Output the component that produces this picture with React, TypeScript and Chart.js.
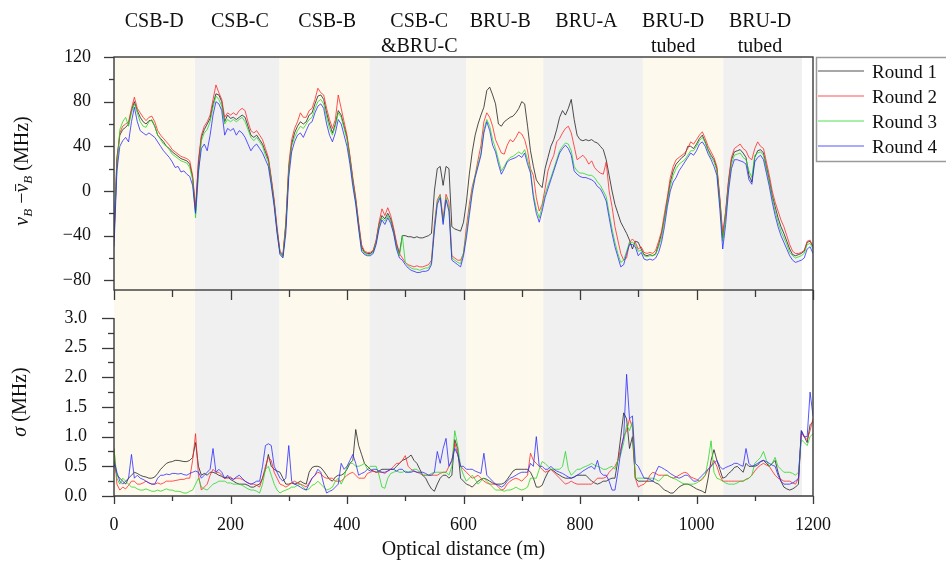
import { useEffect, useRef } from 'react';
import { Chart, registerables } from 'chart.js';

Chart.register(...registerables);

// ---------------- data ----------------
const DIST_STEP = 5; // m between samples, samples start at 0 m
const ROUND_LABELS = ['Round 1', 'Round 2', 'Round 3', 'Round 4'];
const ROUND_COLORS = ['rgba(35,35,35,0.8)', 'rgba(255,35,35,0.78)', 'rgba(35,215,35,0.78)', 'rgba(40,40,255,0.78)'];

// Brillouin frequency shift deviation (MHz)
const SHIFT_R1 = [
  -42, 30, 50, 55, 57, 60, 72, 80, 72, 66,
  62, 60, 63, 63, 58, 50, 47, 44, 40, 38,
  35, 33, 31, 29, 28, 27, 24, 12, -18, 25,
  48, 55, 60, 65, 78, 87, 86, 80, 62, 68,
  65, 66, 64, 66, 68, 66, 58, 50, 48, 50,
  46, 42, 35, 28, 10, -10, -35, -55, -58, -30,
  20, 42, 52, 58, 62, 60, 62, 68, 70, 78,
  85, 86, 82, 70, 60, 52, 60, 72, 68, 58,
  48, 30, 10, -8, -30, -50, -55, -56, -56, -54,
  -45, -30, -22, -25, -20, -25, -35, -48, -56, -40,
  -40, -41, -41, -42, -41, -42, -42, -41, -40, -38,
  0, 20, 22, 5, 22, 20, -32, -34, -35, -36,
  -28, -10, 15, 35, 50, 60, 68, 75, 90, 93,
  86, 78, 60, 58, 62, 64, 66, 67, 70, 74,
  80, 78, 58, 36, 22, 10, 6, 3, 20, 30,
  40, 46, 55, 66, 72, 68, 74, 82, 64, 50,
  46, 45, 46, 45, 46, 44, 43, 40, 37, 28,
  14, 0, -12, -20, -28, -33, -38, -44, -52, -45,
  -46, -52, -57, -58, -57, -58, -56, -48, -38, -24,
  -8, 8, 18, 24, 27, 30, 32, 40, 40, 38,
  42, 47, 50, 44, 37, 32, 28, 20, -8, -42,
  -20, 8, 28, 35, 36, 37, 34, 30, 14, 8,
  30, 36, 37, 34, 22, 10, -4, -14, -24, -32,
  -38, -45, -52, -57, -58, -57, -56, -54, -46, -45,
  -50,
];
const SHIFT_R2 = [
  -45, 25, 52, 58, 60, 62, 74, 84, 74, 70,
  66, 63, 66, 67, 62, 54, 50, 47, 44, 41,
  37, 35, 33, 31, 30, 29, 27, 14, -15, 28,
  50, 58, 62, 68, 82, 95, 88, 82, 66, 70,
  68, 70, 68, 72, 74, 72, 62, 54, 52, 54,
  50, 46, 38, 30, 12, -8, -33, -54, -57, -28,
  24, 46, 56, 62, 70, 66, 66, 72, 74, 82,
  92, 88, 86, 74, 64, 56, 64, 86, 74, 62,
  50, 32, 12, -6, -28, -48, -54, -55, -55, -53,
  -44, -28, -16, -22, -15, -22, -33, -46, -56, -60,
  -64, -66, -67, -68, -67, -68, -68, -67, -66, -62,
  -30, -8, -3, -25, -3, -10, -58, -60, -62, -62,
  -56, -32, -12, 4, 14, 28, 41, 62, 70, 66,
  58, 46, 40, 34, 33, 41, 46, 44, 48, 53,
  51, 46, 36, 20, 14, -6, -18, -12, 2, 18,
  26, 32, 44, 47, 52, 56, 58, 52, 40, 28,
  30, 32, 29, 24, 27, 21, 18, 16, 15, 26,
  0, -14, -32, -44, -56, -62, -60, -46, -43, -46,
  -52, -50, -55, -56, -55, -56, -53, -45, -36, -20,
  -5, 12, 22, 28, 30, 32, 34, 38, 44, 42,
  46, 50, 53, 47, 40, 35, 30, 22, -5, -38,
  -18, 10, 30, 38, 40, 42, 38, 36, 30, 28,
  38, 44, 40, 38, 26, 14, 0, -10, -18, -26,
  -32, -40, -48, -54, -56, -56, -55, -53, -45, -44,
  -50,
];
const SHIFT_R3 = [
  -38, 20, 55, 62, 66, 58, 70, 78, 70, 62,
  58, 57, 62, 64, 58, 50, 46, 42, 40, 37,
  33, 31, 29, 27, 26, 25, 21, 10, -24, 15,
  45, 52, 55, 62, 75, 85, 82, 76, 60, 64,
  62, 64, 62, 64, 66, 62, 55, 48, 45, 48,
  44, 40, 32, 26, 8, -12, -37, -56, -59, -32,
  18, 40, 48, 54, 58, 56, 60, 64, 66, 74,
  80, 82, 78, 66, 56, 50, 58, 70, 66, 56,
  46, 28, 8, -10, -32, -52, -56, -57, -57, -55,
  -46, -32, -24, -27, -22, -27, -37, -50, -58, -40,
  -64, -67, -69, -70, -70, -71, -70, -69, -69, -64,
  -33, -10, -4, -28, -6, -15, -60, -62, -64, -65,
  -55, -38, -18, 1, 14, 24, 34, 55, 64, 58,
  46, 38, 28, 18, 22, 27, 30, 31, 33, 35,
  33, 37, 28, 18, -3, -16, -24, -14, -3, 5,
  12, 20, 28, 36, 40, 43, 42, 36, 22, 18,
  16, 16, 15, 14, 14, 12, 8, 5, 0, -5,
  -20, -34, -46, -56, -64, -62, -54, -46, -46, -48,
  -54, -53, -58, -59, -58, -58, -57, -50, -42, -26,
  -10, 4, 14, 20, 24, 26, 28, 32, 36, 36,
  40, 45, 48, 43, 36, 30, 26, 18, -10, -45,
  -22, 4, 24, 32, 33, 34, 30, 28, 18, 12,
  32, 34, 35, 32, 20, 8, -6, -18, -28, -36,
  -42, -48, -55, -58, -60, -59, -58, -56, -48, -47,
  -52,
];
const SHIFT_R4 = [
  -50, 18, 40, 45, 48, 44, 62, 75, 62, 54,
  52, 50, 52, 50, 48, 44, 40, 36, 33, 30,
  26, 21, 22, 17, 18, 15, 13, 5, -20, 18,
  38, 42, 36, 50, 68, 80, 78, 72, 50, 56,
  54, 56, 50, 54, 52, 48, 42, 36, 40, 42,
  38, 34, 28, 22, 5, -14, -38, -57, -60, -38,
  12, 35, 44, 50, 52, 48, 54, 60, 62, 70,
  76, 78, 74, 60, 50, 44, 52, 64, 60, 50,
  40, 24, 4, -12, -34, -54, -57, -58, -58, -56,
  -48, -34, -26, -30, -24, -29, -38, -52, -60, -62,
  -66, -69, -71, -72, -73, -73, -72, -72, -71, -66,
  -36, -12, -6, -30, -8, -18, -62, -64, -66, -68,
  -58, -42, -22, -2, 12, 22, 32, 52, 62, 54,
  41, 35, 24, 15, 20, 26, 28, 29, 30, 32,
  30, 34, 24, 16, -6, -20, -28, -18, -6, 2,
  10, 18, 26, 34, 38, 41, 38, 32, 18, 15,
  13, 12, 12, 11, 10, 8, 4, 2, -3, -9,
  -24, -38, -50, -59, -68, -66, -56, -48, -48, -50,
  -58, -55, -61, -62, -61, -62, -60, -55, -46, -32,
  -14, 0, 8, 12, 18, 22, 26, 30, 34, 32,
  36, 42, 44, 40, 33, 28, 22, 14, -16, -52,
  -30, 0, 20, 28, 28, 27, 26, 24, 10, 6,
  26, 30, 32, 28, 16, 4, -10, -22, -32, -40,
  -46, -52, -58, -62, -64, -63, -62, -60, -52, -50,
  -56,
];

// standard deviation sigma (MHz)
const SIGMA_R1 = [
  0.55, 0.35, 0.3, 0.25, 0.2, 0.3, 0.35, 0.4, 0.38, 0.35,
  0.33, 0.32, 0.3, 0.3, 0.32, 0.38, 0.45, 0.5, 0.55, 0.57,
  0.58, 0.6, 0.6, 0.59, 0.58, 0.58, 0.6, 0.65, 0.9, 0.5,
  0.35, 0.38, 0.35, 0.4, 0.4, 0.38, 0.35, 0.33, 0.3, 0.32,
  0.28, 0.25, 0.22, 0.2, 0.2, 0.2, 0.18, 0.15, 0.15, 0.18,
  0.2, 0.3, 0.45, 0.7, 0.5, 0.45, 0.42, 0.4, 0.3, 0.2,
  0.2, 0.22, 0.2, 0.22, 0.25, 0.22, 0.2, 0.4, 0.48, 0.5,
  0.5, 0.48, 0.42, 0.35, 0.28, 0.25, 0.32, 0.35, 0.35, 0.38,
  0.45, 0.55, 0.6, 1.12, 0.85, 0.7, 0.55, 0.5, 0.45, 0.42,
  0.4, 0.42, 0.45, 0.45, 0.45, 0.45, 0.45, 0.5, 0.55, 0.6,
  0.62, 0.65, 0.69, 0.6, 0.55, 0.45, 0.35, 0.3, 0.2, 0.12,
  0.08, 0.2, 0.3, 0.35, 0.35, 0.3, 0.35, 0.95, 0.8, 0.3,
  0.25, 0.2, 0.18, 0.15, 0.2, 0.25, 0.28, 0.3, 0.28, 0.25,
  0.22, 0.2, 0.2, 0.2, 0.22, 0.28, 0.35, 0.42, 0.45, 0.45,
  0.45, 0.45, 0.45, 0.4, 0.3, 0.15, 0.15, 0.18, 0.3, 0.4,
  0.45, 0.42, 0.38, 0.35, 0.32, 0.3, 0.3, 0.3, 0.32, 0.35,
  0.35, 0.35, 0.35, 0.3, 0.25, 0.22, 0.2, 0.22, 0.25, 0.25,
  0.28, 0.3, 0.3, 0.6, 1.0, 1.4, 1.3, 0.8, 1.0, 0.3,
  0.25, 0.25, 0.25, 0.25, 0.25, 0.25, 0.22, 0.2, 0.15, 0.1,
  0.08, 0.05, 0.05, 0.1, 0.15, 0.18, 0.2, 0.2, 0.18, 0.15,
  0.12, 0.1, 0.08, 0.05, 0.3, 0.6, 0.78, 0.6, 0.45, 0.3,
  0.32, 0.38, 0.42, 0.48, 0.5, 0.45, 0.4, 0.55, 0.5, 0.5,
  0.5, 0.52, 0.58, 0.6, 0.55, 0.5, 0.55, 0.6, 0.4, 0.25,
  0.15, 0.12, 0.1, 0.12, 0.15, 0.2, 1.1, 1.0, 0.9, 1.2,
  1.25,
];
const SIGMA_R2 = [
  0.8, 0.2, 0.1, 0.15, 0.12, 0.18, 0.25, 0.25, 0.2, 0.2,
  0.22, 0.25, 0.22, 0.2, 0.2, 0.22, 0.2, 0.22, 0.25, 0.25,
  0.25, 0.26, 0.27, 0.28, 0.28, 0.3, 0.3, 0.6, 1.05, 0.35,
  0.1, 0.15, 0.2, 0.35, 0.45, 0.4, 0.4, 0.35, 0.3, 0.3,
  0.32, 0.28, 0.3, 0.3, 0.28, 0.25, 0.22, 0.2, 0.2, 0.18,
  0.15, 0.3, 0.5, 0.65, 0.6, 0.4, 0.3, 0.2, 0.18, 0.15,
  0.18, 0.22, 0.25, 0.22, 0.2, 0.18, 0.15, 0.22, 0.3, 0.35,
  0.4, 0.38, 0.32, 0.3, 0.3, 0.3, 0.25, 0.25, 0.25, 0.3,
  0.35, 0.38, 0.4, 0.35, 0.3, 0.3, 0.3, 0.38, 0.4, 0.42,
  0.4, 0.4, 0.4, 0.38, 0.42, 0.45, 0.5, 0.55, 0.55, 0.6,
  0.68, 0.5, 0.45, 0.42, 0.4, 0.38, 0.35, 0.35, 0.35, 0.35,
  0.35, 0.35, 0.38, 0.4, 0.4, 0.5, 0.6, 0.9, 0.7, 0.5,
  0.45, 0.4, 0.35, 0.3, 0.32, 0.35, 0.3, 0.25, 0.22, 0.2,
  0.2, 0.2, 0.15, 0.1, 0.12, 0.2, 0.25, 0.28, 0.3, 0.28,
  0.25, 0.3, 0.35, 0.72, 0.6, 0.55, 0.5, 0.45, 0.4, 0.42,
  0.45, 0.4, 0.35, 0.3, 0.25, 0.2, 0.22, 0.25, 0.22, 0.2,
  0.2, 0.2, 0.2, 0.2, 0.2, 0.25, 0.3, 0.3, 0.3, 0.32,
  0.4, 0.45, 0.5, 0.6, 0.8, 1.0, 1.1, 1.3, 1.15, 0.3,
  0.15, 0.18, 0.2, 0.25, 0.35, 0.4, 0.38, 0.35, 0.35, 0.35,
  0.35, 0.32, 0.3, 0.32, 0.35, 0.38, 0.4, 0.38, 0.32, 0.3,
  0.28, 0.25, 0.28, 0.35, 0.45, 0.5, 0.6, 0.5, 0.35, 0.25,
  0.25, 0.25, 0.25, 0.25, 0.25, 0.25, 0.25, 0.28, 0.3, 0.35,
  0.42, 0.48, 0.52, 0.55, 0.52, 0.5, 0.42, 0.35, 0.3, 0.28,
  0.25, 0.25, 0.25, 0.22, 0.2, 0.3, 1.05, 1.0, 0.95, 1.1,
  1.3,
];
const SIGMA_R3 = [
  0.8, 0.3, 0.2, 0.3, 0.25, 0.2, 0.15, 0.15, 0.12, 0.1,
  0.1, 0.12, 0.1, 0.08, 0.08, 0.1, 0.08, 0.1, 0.12, 0.1,
  0.1, 0.08, 0.08, 0.07, 0.05, 0.05, 0.08, 0.1, 0.2, 0.3,
  0.15, 0.12, 0.1, 0.15, 0.2, 0.22, 0.25, 0.25, 0.25, 0.22,
  0.22, 0.2, 0.2, 0.2, 0.18, 0.15, 0.12, 0.1, 0.1, 0.08,
  0.05, 0.2, 0.45, 0.5, 0.35, 0.2, 0.1, 0.05, 0.08, 0.1,
  0.12, 0.15, 0.15, 0.18, 0.2, 0.15, 0.1, 0.12, 0.18, 0.2,
  0.25, 0.2, 0.15, 0.1, 0.12, 0.15, 0.25, 0.3, 0.2, 0.3,
  0.5, 0.55, 0.55, 0.5, 0.5, 0.52, 0.55, 0.45, 0.5, 0.5,
  0.5, 0.35, 0.15, 0.13, 0.3, 0.38, 0.4, 0.42, 0.4, 0.4,
  0.42, 0.4, 0.42, 0.45, 0.45, 0.4, 0.35, 0.35, 0.35, 0.38,
  0.4, 0.4, 0.4, 0.4, 0.4, 0.35, 0.5, 1.1, 0.85, 0.5,
  0.35, 0.25, 0.3, 0.35, 0.28, 0.2, 0.25, 0.3, 0.25, 0.2,
  0.15, 0.1, 0.1, 0.1, 0.08, 0.1, 0.1, 0.12, 0.15, 0.12,
  0.1, 0.12, 0.15, 0.3, 0.3, 0.3, 0.45, 0.58, 0.55, 0.5,
  0.45, 0.45, 0.45, 0.45, 0.5, 0.75, 0.45, 0.35, 0.4, 0.45,
  0.45, 0.48, 0.5, 0.52, 0.55, 0.52, 0.5, 0.48, 0.45, 0.45,
  0.48, 0.5, 0.45, 0.6, 0.7, 0.9, 1.2, 1.1, 1.25, 0.3,
  0.3, 0.3, 0.3, 0.3, 0.3, 0.3, 0.28, 0.25, 0.3, 0.35,
  0.35, 0.32, 0.3, 0.28, 0.25, 0.22, 0.2, 0.2, 0.2, 0.2,
  0.22, 0.25, 0.3, 0.35, 0.6, 0.93, 0.4, 0.3, 0.28, 0.25,
  0.22, 0.2, 0.2, 0.2, 0.22, 0.25, 0.25, 0.28, 0.3, 0.35,
  0.55, 0.6, 0.65, 0.75, 0.6, 0.5, 0.55, 0.65, 0.5, 0.45,
  0.4, 0.4, 0.4, 0.38, 0.35, 0.4, 0.95, 0.9, 0.85, 1.0,
  1.05,
];
const SIGMA_R4 = [
  0.6, 0.4, 0.25, 0.2, 0.25, 0.3, 0.7, 0.3, 0.35, 0.3,
  0.28, 0.25, 0.22, 0.2, 0.2, 0.3, 0.35, 0.35, 0.37, 0.36,
  0.38, 0.38, 0.37, 0.38, 0.36, 0.35, 0.38, 0.4, 0.42, 0.4,
  0.3, 0.35, 0.4, 0.45, 0.8, 0.4, 0.45, 0.4, 0.3, 0.35,
  0.3, 0.28, 0.32, 0.35, 0.3, 0.25, 0.22, 0.2, 0.22, 0.25,
  0.25, 0.5, 0.85, 0.88, 0.85, 0.5, 0.4, 0.3, 0.25, 0.3,
  0.85, 0.25, 0.2, 0.18, 0.15, 0.12, 0.1, 0.2, 0.3, 0.35,
  0.45, 0.4, 0.2, 0.05, 0.08, 0.1, 0.15, 0.2, 0.55, 0.45,
  0.5, 0.6, 0.7, 0.55, 0.35, 0.38, 0.4, 0.45, 0.42, 0.45,
  0.45, 0.42, 0.4, 0.4, 0.42, 0.45, 0.45, 0.42, 0.45, 0.45,
  0.4, 0.4, 0.4, 0.42, 0.4, 0.4, 0.4, 0.38, 0.35, 0.35,
  0.4, 0.75, 0.55, 0.8, 0.97, 0.5, 0.6, 0.8, 0.7, 0.5,
  0.5, 0.45, 0.45, 0.45, 0.42, 0.4, 0.38, 0.72, 0.35, 0.3,
  0.25, 0.2, 0.18, 0.15, 0.18, 0.25, 0.3, 0.32, 0.35, 0.38,
  0.4, 0.4, 0.4, 0.55, 0.5, 1.0, 0.5, 0.5, 0.45, 0.45,
  0.5, 0.45, 0.42, 0.4, 0.38, 0.35, 0.32, 0.3, 0.32, 0.35,
  0.38, 0.42, 0.45, 0.48, 0.5, 0.45, 0.6, 0.4, 0.35, 0.35,
  0.25, 0.1, 0.1, 0.4, 0.75, 1.0, 2.05, 1.3, 1.35, 0.55,
  0.5, 0.4, 0.3, 0.3, 0.28, 0.25, 0.4, 0.5, 0.48, 0.45,
  0.42, 0.38, 0.35, 0.32, 0.3, 0.32, 0.35, 0.35, 0.3, 0.25,
  0.25, 0.3, 0.35, 0.4, 0.45, 0.5, 0.55, 0.6, 0.5, 0.45,
  0.48, 0.5, 0.52, 0.55, 0.55, 0.52, 0.5, 0.8, 0.55, 0.5,
  0.52, 0.55, 0.58, 0.6, 0.58, 0.55, 0.52, 0.5, 0.35, 0.25,
  0.2, 0.2, 0.2, 0.22, 0.25, 0.3, 1.1, 1.0, 1.0, 1.75,
  1.35,
];

// cable sections (m) and their names
const BAND_EDGES = [0, 139, 284, 439, 605, 737, 908, 1046, 1181];
const SECTION_NAMES = [['CSB-D'], ['CSB-C'], ['CSB-B'], ['CSB-C', '&BRU-C'], ['BRU-B'], ['BRU-A'], ['BRU-D', 'tubed'], ['BRU-D', 'tubed']];
const SECTION_LABEL_AT = [69, 216, 366, 524, 663, 811, 960, 1109];

const X_TICKS = [0, 100, 200, 300, 400, 500, 600, 700, 800, 900, 1000, 1100, 1200];
const SHIFT_TICKS = [-80, -60, -40, -20, 0, 20, 40, 60, 80, 100, 120];
const SIGMA_TICKS = [0, 0.25, 0.5, 0.75, 1, 1.25, 1.5, 1.75, 2, 2.25, 2.5, 2.75, 3];

// ---------------- styling / layout ----------------
const FONT = '"Liberation Serif", "Times New Roman", serif';
const BAND_COLORS = ['#fdf9ed', '#f1f0f0'];
const AXIS_COLOR = '#3a3a3a';
const TEXT_COLOR = '#111';
const PLOT_LEFT = 114;
const PLOT_RIGHT = 813;
const PAGE_W = 946;
const TOP_H = 300;
const BOTTOM_TOP = 270;
const BOTTOM_H = 295;

const toPoints = (arr: number[]) => arr.map((y, i) => ({ x: i * DIST_STEP, y }));
const minus = (v: number) => (v < 0 ? '\u2212' + Math.abs(v) : String(v));

type Part = { t: string; italic?: boolean; size: number; dy?: number; bar?: boolean };

function drawRotatedRich(ctx: CanvasRenderingContext2D, parts: Part[], bx: number, cy: number) {
  ctx.save();
  ctx.translate(bx, cy);
  ctx.rotate(-Math.PI / 2);
  ctx.fillStyle = TEXT_COLOR;
  ctx.strokeStyle = TEXT_COLOR;
  ctx.lineWidth = 1;
  ctx.textAlign = 'left';
  ctx.textBaseline = 'alphabetic';
  const fontOf = (p: Part) => `${p.italic ? 'italic ' : ''}${p.size}px ${FONT}`;
  const widths = parts.map((p) => {
    ctx.font = fontOf(p);
    return ctx.measureText(p.t).width;
  });
  const total = widths.reduce((a, b) => a + b, 0);
  let x = -total / 2;
  parts.forEach((p, i) => {
    ctx.font = fontOf(p);
    ctx.fillText(p.t, x, p.dy || 0);
    if (p.bar) {
      const yb = -p.size * 0.62;
      ctx.beginPath();
      ctx.moveTo(x + 1.5, yb);
      ctx.lineTo(x + widths[i] - 0.5, yb);
      ctx.stroke();
    }
    x += widths[i];
  });
  ctx.restore();
}

function drawBands(chart: any) {
  const { ctx, chartArea } = chart;
  const xs = chart.scales.x;
  ctx.save();
  for (let i = 0; i < BAND_EDGES.length - 1; i++) {
    const a = xs.getPixelForValue(BAND_EDGES[i]);
    const b = xs.getPixelForValue(BAND_EDGES[i + 1]);
    ctx.fillStyle = BAND_COLORS[i % 2];
    ctx.fillRect(a, chartArea.top, b - a, chartArea.bottom - chartArea.top);
  }
  ctx.restore();
}

function drawXTicks(chart: any, y0: number, majorLen: number, minorLen: number) {
  const { ctx } = chart;
  const xs = chart.scales.x;
  ctx.save();
  ctx.strokeStyle = AXIS_COLOR;
  ctx.lineWidth = 1.3;
  X_TICKS.forEach((v) => {
    const px = Math.round(xs.getPixelForValue(v)) + 0.5;
    const len = v % 200 === 0 ? majorLen : minorLen;
    ctx.beginPath();
    ctx.moveTo(px, y0);
    ctx.lineTo(px, y0 + len);
    ctx.stroke();
  });
  ctx.restore();
}

function drawYTicks(chart: any, ticks: number[], isMajor: (v: number) => boolean, majorLen: number, minorLen: number) {
  const { ctx, chartArea } = chart;
  const ys = chart.scales.y;
  ctx.save();
  ctx.strokeStyle = AXIS_COLOR;
  ctx.lineWidth = 1.3;
  ticks.forEach((v) => {
    const py = Math.round(ys.getPixelForValue(v)) + 0.5;
    const len = isMajor(v) ? majorLen : minorLen;
    ctx.beginPath();
    ctx.moveTo(chartArea.left, py);
    ctx.lineTo(chartArea.left - len, py);
    ctx.stroke();
  });
  ctx.restore();
}

const topDecor = {
  id: 'topDecor',
  beforeDatasetsDraw(chart: any) {
    drawBands(chart);
  },
  afterDatasetsDraw(chart: any) {
    const { ctx, chartArea } = chart;
    const xs = chart.scales.x;
    // frame
    ctx.save();
    ctx.strokeStyle = AXIS_COLOR;
    ctx.lineWidth = 1.4;
    ctx.strokeRect(chartArea.left, chartArea.top, chartArea.right - chartArea.left, chartArea.bottom - chartArea.top);
    ctx.restore();
    drawYTicks(chart, SHIFT_TICKS, (v) => v % 40 === 0, 10, 5);
    drawXTicks(chart, chartArea.bottom, 10, 7);
    // section names
    ctx.save();
    ctx.fillStyle = TEXT_COLOR;
    ctx.font = `20px ${FONT}`;
    ctx.textAlign = 'center';
    ctx.textBaseline = 'alphabetic';
    SECTION_NAMES.forEach((lines, i) => {
      const cx = xs.getPixelForValue(SECTION_LABEL_AT[i]);
      lines.forEach((ln, j) => ctx.fillText(ln, cx, 27 + j * 25));
    });
    ctx.restore();
    // legend
    ctx.save();
    const lx = chartArea.right + 3;
    const ly = chartArea.top;
    ctx.strokeStyle = '#9a9a9a';
    ctx.lineWidth = 1.5;
    ctx.strokeRect(lx + 0.5, ly + 0.5, PAGE_W - lx + 4, 104);
    ctx.font = `19px ${FONT}`;
    ctx.textAlign = 'left';
    ctx.textBaseline = 'alphabetic';
    chart.data.datasets.forEach((ds: any, i: number) => {
      const yy = ly + 14 + i * 25;
      ctx.strokeStyle = ds.borderColor;
      ctx.lineWidth = 1.2;
      ctx.beginPath();
      ctx.moveTo(lx + 2, yy);
      ctx.lineTo(lx + 48, yy);
      ctx.stroke();
      ctx.fillStyle = TEXT_COLOR;
      ctx.fillText(ds.label, lx + 56, yy + 6.5);
    });
    ctx.restore();
    // y title
    drawRotatedRich(
      ctx,
      [
        { t: '\u03bd', italic: true, size: 20 },
        { t: 'B', italic: true, size: 13, dy: 4 },
        { t: ' \u2212', size: 20 },
        { t: '\u03bd', italic: true, size: 20, bar: true },
        { t: 'B', italic: true, size: 13, dy: 4 },
        { t: ' (MHz)', size: 20 },
      ],
      28,
      171,
    );
  },
};

const bottomDecor = {
  id: 'bottomDecor',
  beforeDatasetsDraw(chart: any) {
    drawBands(chart);
  },
  afterDatasetsDraw(chart: any) {
    const { ctx, chartArea } = chart;
    const ys = chart.scales.y;
    ctx.save();
    ctx.strokeStyle = AXIS_COLOR;
    ctx.lineWidth = 1.4;
    ctx.beginPath();
    // left axis (from top tick down), bottom axis, right border
    ctx.moveTo(chartArea.left, ys.getPixelForValue(3));
    ctx.lineTo(chartArea.left, chartArea.bottom);
    ctx.lineTo(chartArea.right, chartArea.bottom);
    ctx.lineTo(chartArea.right, chartArea.top);
    ctx.stroke();
    ctx.restore();
    drawYTicks(chart, SIGMA_TICKS, (v) => Math.abs(v * 2 - Math.round(v * 2)) < 1e-6, 12, 6);
    drawXTicks(chart, chartArea.bottom, 8, 5);
    // titles
    drawRotatedRich(
      ctx,
      [
        { t: '\u03c3', italic: true, size: 20 },
        { t: ' (MHz)', size: 20 },
      ],
      26,
      132,
    );
    ctx.save();
    ctx.fillStyle = TEXT_COLOR;
    ctx.font = `20px ${FONT}`;
    ctx.textAlign = 'center';
    ctx.textBaseline = 'alphabetic';
    ctx.fillText('Optical distance (m)', (chartArea.left + chartArea.right) / 2, 555 - BOTTOM_TOP);
    ctx.restore();
  },
};

function makeDatasets(series: number[][]) {
  return series.map((arr, i) => ({
    label: ROUND_LABELS[i],
    data: toPoints(arr),
    borderColor: ROUND_COLORS[i],
    backgroundColor: ROUND_COLORS[i],
    borderWidth: 1,
    pointRadius: 0,
    tension: 0,
    fill: false,
    order: series.length - 1 - i,
  }));
}

const tickFont = { family: FONT, size: 18 };

// fix the y axis box: fixed width and no extra label padding above/below the plot
const fixYAxis = (s: any) => {
  s.width = PLOT_LEFT;
  s.paddingTop = 0;
  s.paddingBottom = 0;
};

export default function App() {
  const topRef = useRef<HTMLCanvasElement | null>(null);
  const bottomRef = useRef<HTMLCanvasElement | null>(null);

  useEffect(() => {
    if (!topRef.current || !bottomRef.current) return;
    Chart.defaults.font.family = FONT;

    const bottom = new Chart(bottomRef.current, {
      type: 'line',
      data: { datasets: makeDatasets([SIGMA_R1, SIGMA_R2, SIGMA_R3, SIGMA_R4]) as any },
      options: {
        animation: false,
        responsive: false,
        devicePixelRatio: 1,
        parsing: false as any,
        events: [],
        layout: { padding: { left: 0, right: PAGE_W - PLOT_RIGHT, top: 290 - BOTTOM_TOP, bottom: 0 } },
        plugins: { legend: { display: false }, tooltip: { enabled: false }, title: { display: false } },
        scales: {
          x: {
            type: 'linear',
            min: 0,
            max: 1200,
            afterBuildTicks: (s: any) => {
              s.ticks = X_TICKS.map((v) => ({ value: v }));
            },
            afterFit: (s: any) => {
              s.height = BOTTOM_H - (496 - BOTTOM_TOP);
              s.paddingLeft = 0;
              s.paddingRight = 0;
            },
            ticks: {
              autoSkip: false,
              maxRotation: 0,
              font: tickFont,
              color: TEXT_COLOR,
              padding: 10,
              callback: (v: any) => (Number(v) % 200 === 0 ? String(v) : ''),
            },
            grid: { display: false, drawTicks: true, tickLength: 8 },
            border: { display: false },
          },
          y: {
            type: 'linear',
            min: 0,
            max: 3.47,
            afterBuildTicks: (s: any) => {
              s.ticks = SIGMA_TICKS.map((v) => ({ value: v }));
            },
            afterFit: fixYAxis,
            ticks: {
              autoSkip: false,
              font: tickFont,
              color: TEXT_COLOR,
              padding: 15,
              callback: (v: any) => {
                const n = Number(v);
                return Math.abs(n * 2 - Math.round(n * 2)) < 1e-6 ? n.toFixed(1) : '';
              },
            },
            grid: { display: false, drawTicks: true, tickLength: 12 },
            border: { display: false },
          },
        },
      },
      plugins: [bottomDecor],
    });

    const top = new Chart(topRef.current, {
      type: 'line',
      data: { datasets: makeDatasets([SHIFT_R1, SHIFT_R2, SHIFT_R3, SHIFT_R4]) as any },
      options: {
        animation: false,
        responsive: false,
        devicePixelRatio: 1,
        parsing: false as any,
        events: [],
        layout: { padding: { left: 0, right: PAGE_W - PLOT_RIGHT, top: 57, bottom: 0 } },
        plugins: { legend: { display: false }, tooltip: { enabled: false }, title: { display: false } },
        scales: {
          x: {
            type: 'linear',
            min: 0,
            max: 1200,
            afterBuildTicks: (s: any) => {
              s.ticks = X_TICKS.map((v) => ({ value: v }));
            },
            afterFit: (s: any) => {
              s.height = TOP_H - 290;
              s.paddingLeft = 0;
              s.paddingRight = 0;
            },
            ticks: { display: false },
            grid: { display: false },
            border: { display: false },
          },
          y: {
            type: 'linear',
            min: -88.7,
            max: 120,
            afterBuildTicks: (s: any) => {
              s.ticks = SHIFT_TICKS.map((v) => ({ value: v }));
            },
            afterFit: fixYAxis,
            ticks: {
              autoSkip: false,
              font: tickFont,
              color: TEXT_COLOR,
              padding: 13,
              callback: (v: any) => (Number(v) % 40 === 0 ? minus(Number(v)) : ''),
            },
            grid: { display: false, drawTicks: true, tickLength: 10 },
            border: { display: false },
          },
        },
      },
      plugins: [topDecor],
    });

    return () => {
      top.destroy();
      bottom.destroy();
    };
  }, []);

  return (
    <div style={{ position: 'absolute', left: 0, top: 0, width: PAGE_W, height: 565, background: '#fff', overflow: 'hidden' }}>
      <canvas
        ref={bottomRef}
        width={PAGE_W}
        height={BOTTOM_H}
        style={{ position: 'absolute', left: 0, top: BOTTOM_TOP, width: PAGE_W, height: BOTTOM_H }}
      />
      <canvas
        ref={topRef}
        width={PAGE_W}
        height={TOP_H}
        style={{ position: 'absolute', left: 0, top: 0, width: PAGE_W, height: TOP_H }}
      />
    </div>
  );
}
